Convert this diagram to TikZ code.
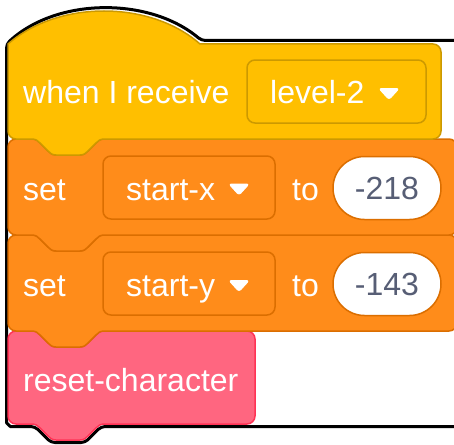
\documentclass[tikz,border=0pt]{standalone}
\usepackage{fontspec}
\setmainfont{Liberation Sans}
\definecolor{evYellow}{HTML}{FFBF00}
\definecolor{evYellowDark}{HTML}{CC9900}
\definecolor{varOrange}{HTML}{FF8C1A}
\definecolor{varOrangeDark}{HTML}{DB6E00}
\definecolor{myPink}{HTML}{FF6680}
\definecolor{myPinkDark}{HTML}{FF3355}
\definecolor{numGrey}{HTML}{575E75}
\tikzset{
  % stack block of width #1 and height #2, with top notch and bottom tab
  stackshape/.style 2 args={insert path={
    (0,8) .. controls (0,3.6) and (3.6,0) .. (8,0) -- (24,0)
    .. controls (28,0) and (30,2) .. (32,4) -- (40,12)
    .. controls (42,14) and (44,16) .. (48,16) -- (72,16)
    .. controls (76,16) and (78,14) .. (80,12) -- (88,4)
    .. controls (90,2) and (92,0) .. (96,0)
    -- ({#1-8},0) .. controls ({#1-3.6},0) and (#1,3.6) .. (#1,8)
    -- (#1,{#2-8}) .. controls (#1,{#2-3.6}) and ({#1-3.6},#2) .. ({#1-8},#2)
    -- (96,#2) .. controls (92,#2) and (90,{#2+2}) .. (88,{#2+4})
    -- (80,{#2+12}) .. controls (78,{#2+14}) and (76,{#2+16}) .. (72,{#2+16})
    -- (48,{#2+16}) .. controls (44,{#2+16}) and (42,{#2+14}) .. (40,{#2+12})
    -- (32,{#2+4}) .. controls (30,{#2+2}) and (28,#2) .. (24,#2)
    -- (8,#2) .. controls (3.6,#2) and (0,{#2-3.6}) .. (0,{#2-8}) -- cycle}},
  % hat block of width #1 and height #2
  hatshape/.style 2 args={insert path={
    (0,0) .. controls (50,-44) and (142,-44) .. (192,0)
    -- ({#1-8},0) .. controls ({#1-3.6},0) and (#1,3.6) .. (#1,8)
    -- (#1,{#2-8}) .. controls (#1,{#2-3.6}) and ({#1-3.6},#2) .. ({#1-8},#2)
    -- (96,#2) .. controls (92,#2) and (90,{#2+2}) .. (88,{#2+4})
    -- (80,{#2+12}) .. controls (78,{#2+14}) and (76,{#2+16}) .. (72,{#2+16})
    -- (48,{#2+16}) .. controls (44,{#2+16}) and (42,{#2+14}) .. (40,{#2+12})
    -- (32,{#2+4}) .. controls (30,{#2+2}) and (28,#2) .. (24,#2)
    -- (8,#2) .. controls (3.6,#2) and (0,{#2-3.6}) .. (0,{#2-8}) -- cycle}},
  eventblock/.style={fill=evYellow, draw=evYellowDark, line width=1.5pt},
  varblock/.style={fill=varOrange, draw=varOrangeDark, line width=1.5pt},
  myblock/.style={fill=myPink, draw=myPinkDark, line width=1.5pt},
  lbl/.style={text=white, font=\fontsize{32}{38}\selectfont, inner sep=0pt, anchor=base west},
  numlbl/.style={text=numGrey, font=\fontsize{32}{38}\selectfont, inner sep=0pt, anchor=base},
  ddbox/.style={rounded corners=8pt, line width=1.5pt},
  numoval/.style={fill=white, draw=varOrangeDark, line width=1.5pt, rounded corners=31.5pt},
  ddarrow/.style={fill=white, draw=white, line width=1pt, line join=round, rounded corners=2.5pt},
}
\newcommand\droparrow[2]{%
  \path[ddarrow, shift={(#1,#2)}] (-10,-5.5) -- (10,-5.5) -- (0,5.5) -- cycle;}
\begin{document}
\begin{tikzpicture}[x=1pt, y=-1pt]
  \useasboundingbox (0,0) rectangle (454,444);

  % outline round the whole script
  \draw[fill=white, line width=3pt, rounded corners=4pt]
    (6.5,44) .. controls (57,-3) and (150,-3) .. (201.5,40.5)
    -- (451,40.5) .. controls (455.4,40.5) and (459,44.1) .. (459,48.5)
    -- (459,418.5) .. controls (459,422.9) and (455.4,426.5) .. (451,426.5)
    -- (101.1,426.5) -- (85.1,442.5) -- (50.9,442.5) -- (34.9,426.5)
    -- (14.5,426.5) .. controls (10.1,426.5) and (6.5,422.9) .. (6.5,418.5)
    -- cycle;

  % blocks, bottom to top
  \begin{scope}[shift={(8,331)}]
    \path[myblock, stackshape={247}{93}];
  \end{scope}
  \begin{scope}[shift={(8,235)}]
    \path[varblock, stackshape={449}{96}];
  \end{scope}
  \begin{scope}[shift={(8,139)}]
    \path[varblock, stackshape={449}{96}];
  \end{scope}
  \begin{scope}[shift={(8,44)}]
    \path[eventblock, hatshape={433}{95}];
  \end{scope}

  % when I receive [level-2]
  \node[lbl] (recv) at (23,103.5) {when I receive};
  \draw[ddbox, fill=evYellow, draw=evYellowDark] (247,60) rectangle (426,123);
  \node[lbl] (msg) at (270,103.5) {level-2};
  \droparrow{389}{94}

  % set [start-x] to (-218)
  \node[lbl] (set1) at (23,200) {set};
  \draw[ddbox, fill=varOrange, draw=varOrangeDark] (103,156) rectangle (275,219);
  \node[lbl] (var1) at (126,200) {start-x};
  \droparrow{239}{189.5}
  \node[lbl] (to1) at (292,200) {to};
  \draw[numoval] (333,156.5) rectangle (441,219.5);
  \node[numlbl] (val1) at (387,199) {-218};

  % set [start-y] to (-143)
  \node[lbl] (set2) at (23,296) {set};
  \draw[ddbox, fill=varOrange, draw=varOrangeDark] (103,252) rectangle (275,315);
  \node[lbl] (var2) at (126,296) {start-y};
  \droparrow{239}{286}
  \node[lbl] (to2) at (292,296) {to};
  \draw[numoval] (333,252.5) rectangle (441,315.5);
  \node[numlbl] (val2) at (387,295.5) {-143};

  % reset-character
  \node[lbl] (reset) at (23,391.5) {reset-character};
\end{tikzpicture}
\end{document}
